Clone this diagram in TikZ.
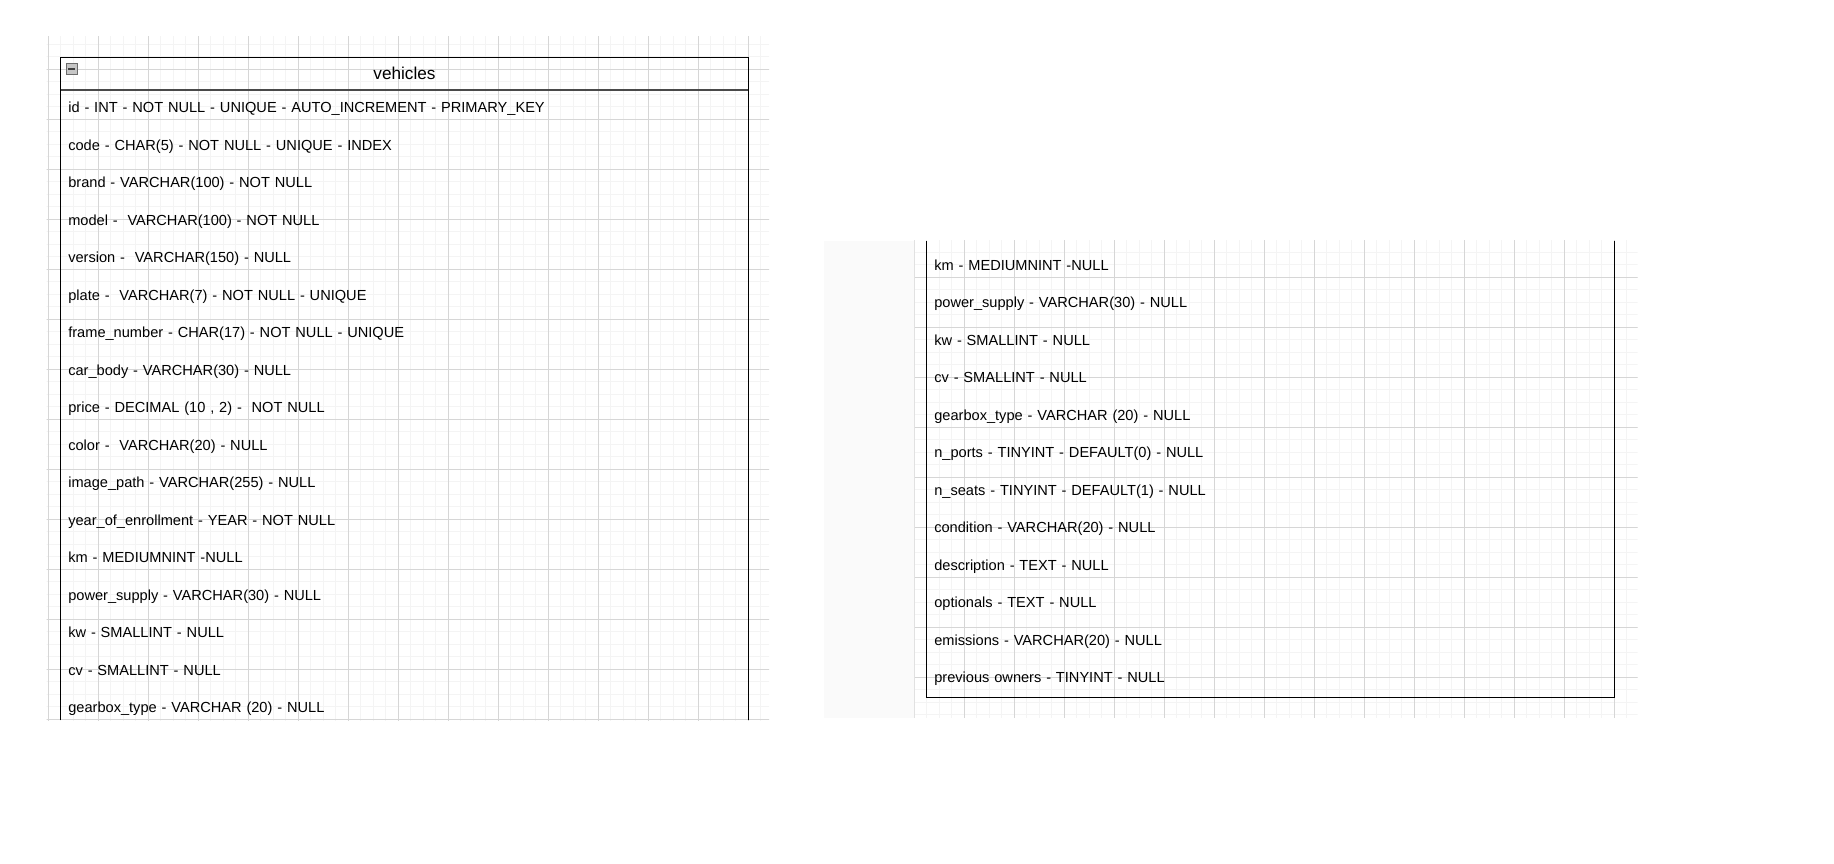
\documentclass[tikz,border=0pt]{standalone}
\usepackage{fontspec}
\setmainfont{Liberation Sans}
\usepackage{tikz}
\usetikzlibrary{positioning}
\usepackage{xcolor}
\definecolor{minorline}{HTML}{F4F4F4}
\definecolor{majorline}{HTML}{D6D6D6}
\definecolor{panelbg}{HTML}{FAFAFA}
\definecolor{sepline}{HTML}{4A4A4A}

\begin{document}
\begin{tikzpicture}
    [x=1pt,y=1pt,
    fld/.style={
      rectangle,
      text width=672.4pt,
      inner xsep=7.6pt, inner ysep=0pt, outer sep=0pt,
      minimum height=37.5pt,
      text height=11pt, text depth=3pt,
      align=left,
      font=\fontsize{14.6}{18}\selectfont
      },
    hdr/.style={
      rectangle,
      minimum width=687.6pt, minimum height=32.7pt,
      inner sep=0pt, outer sep=0pt,
      draw=black, line width=1.3pt,
      font=\fontsize{17.2}{21}\selectfont
      },
    toggle/.style={
      rectangle, minimum size=10.5pt, inner sep=0pt,
      draw=gray!85!black, line width=.8pt, fill=gray!45
      },
    boxline/.style={draw=black, line width=1.3pt}]

    \useasboundingbox (0,0) rectangle (1834,-863);

    % grid behind the left table
    \begin{scope}
      \clip (46.5,-36.7) rectangle (769,-720);
      \draw[minorline, line width=1pt, shift={(48.3,-19.3)}] (-50,50) grid[step=12.5] (750,-750);
      \draw[majorline, line width=1pt, shift={(48.3,-19.3)}] (-50,50) grid[step=50] (750,-750);
    \end{scope}

    % grid behind the right table
    \fill[panelbg] (824,-240.7) rectangle (914.3,-717.5);
    \begin{scope}
      \clip (914.3,-240.7) rectangle (1637.7,-717.5);
      \draw[minorline, line width=1pt, shift={(914.3,-227.3)}] (-50,50) grid[step=12.5] (750,-500);
      \draw[majorline, line width=1pt, shift={(914.3,-227.3)}] (-50,50) grid[step=50] (750,-500);
    \end{scope}

    % left table
    \node (100)[hdr] at (404.5,-73.65) {vehicles};
    \node (tog)[toggle] at (71.7,-68.7) {};
    \draw[line width=1.6pt, black!75] ([xshift=2.2pt]tog.west) -- ([xshift=-2.2pt]tog.east);
    \draw[sepline, line width=1.6pt] (100.south west) -- (100.south east);

    \node (101)[fld, below=0pt of 100] {id - INT - NOT NULL - UNIQUE - AUTO\_INCREMENT - PRIMARY\_KEY};
    \node (102)[fld, below=0pt of 101] {code - CHAR(5) - NOT NULL - UNIQUE - INDEX};
    \node (103)[fld, below=0pt of 102] {brand - VARCHAR(100) - NOT NULL};
    \node (104)[fld, below=0pt of 103] {model - ~VARCHAR(100) - NOT NULL};
    \node (105)[fld, below=0pt of 104] {version - ~VARCHAR(150) - NULL};
    \node (106)[fld, below=0pt of 105] {plate - ~VARCHAR(7) - NOT NULL - UNIQUE};
    \node (107)[fld, below=0pt of 106] {frame\_number - CHAR(17) - NOT NULL - UNIQUE};
    \node (108)[fld, below=0pt of 107] {car\_body - VARCHAR(30) - NULL};
    \node (109)[fld, below=0pt of 108] {price - DECIMAL (10 , 2) - ~NOT NULL};
    \node (110)[fld, below=0pt of 109] {color - ~VARCHAR(20) - NULL};
    \node (111)[fld, below=0pt of 110] {image\_path - VARCHAR(255) - NULL};
    \node (112)[fld, below=0pt of 111] {year\_of\_enrollment - YEAR - NOT NULL};
    \node (113)[fld, below=0pt of 112] {km - MEDIUMNINT -NULL};
    \node (114)[fld, below=0pt of 113] {power\_supply - VARCHAR(30) - NULL};
    \node (115)[fld, below=0pt of 114] {kw - SMALLINT - NULL};
    \node (116)[fld, below=0pt of 115] {cv - SMALLINT - NULL};
    \node (117)[fld, below=0pt of 116] {gearbox\_type - VARCHAR (20) - NULL};

    \coordinate (lbot) at (0,-720);
    \draw[boxline] (100.south west) -- (100.south west |- lbot);
    \draw[boxline] (100.south east) -- (100.south east |- lbot);

    % right table (scrolled part)
    \node (201)[fld] at (1270.5,-266.25) {km - MEDIUMNINT -NULL};
    \node (202)[fld, below=0pt of 201] {power\_supply - VARCHAR(30) - NULL};
    \node (203)[fld, below=0pt of 202] {kw - SMALLINT - NULL};
    \node (204)[fld, below=0pt of 203] {cv - SMALLINT - NULL};
    \node (205)[fld, below=0pt of 204] {gearbox\_type - VARCHAR (20) - NULL};
    \node (206)[fld, below=0pt of 205] {n\_ports - TINYINT - DEFAULT(0) - NULL};
    \node (207)[fld, below=0pt of 206] {n\_seats - TINYINT - DEFAULT(1) - NULL};
    \node (208)[fld, below=0pt of 207] {condition - VARCHAR(20) - NULL};
    \node (209)[fld, below=0pt of 208] {description - TEXT - NULL};
    \node (210)[fld, below=0pt of 209] {optionals - TEXT - NULL};
    \node (211)[fld, below=0pt of 210] {emissions - VARCHAR(20) - NULL};
    \node (212)[fld, below=0pt of 211] {previous owners - TINYINT - NULL};

    \coordinate (rtop) at (0,-240.7);
    \draw[boxline] (201.north west |- rtop) -- (212.south west) -- (212.south east) -- (201.north east |- rtop);

\end{tikzpicture}
\end{document}
